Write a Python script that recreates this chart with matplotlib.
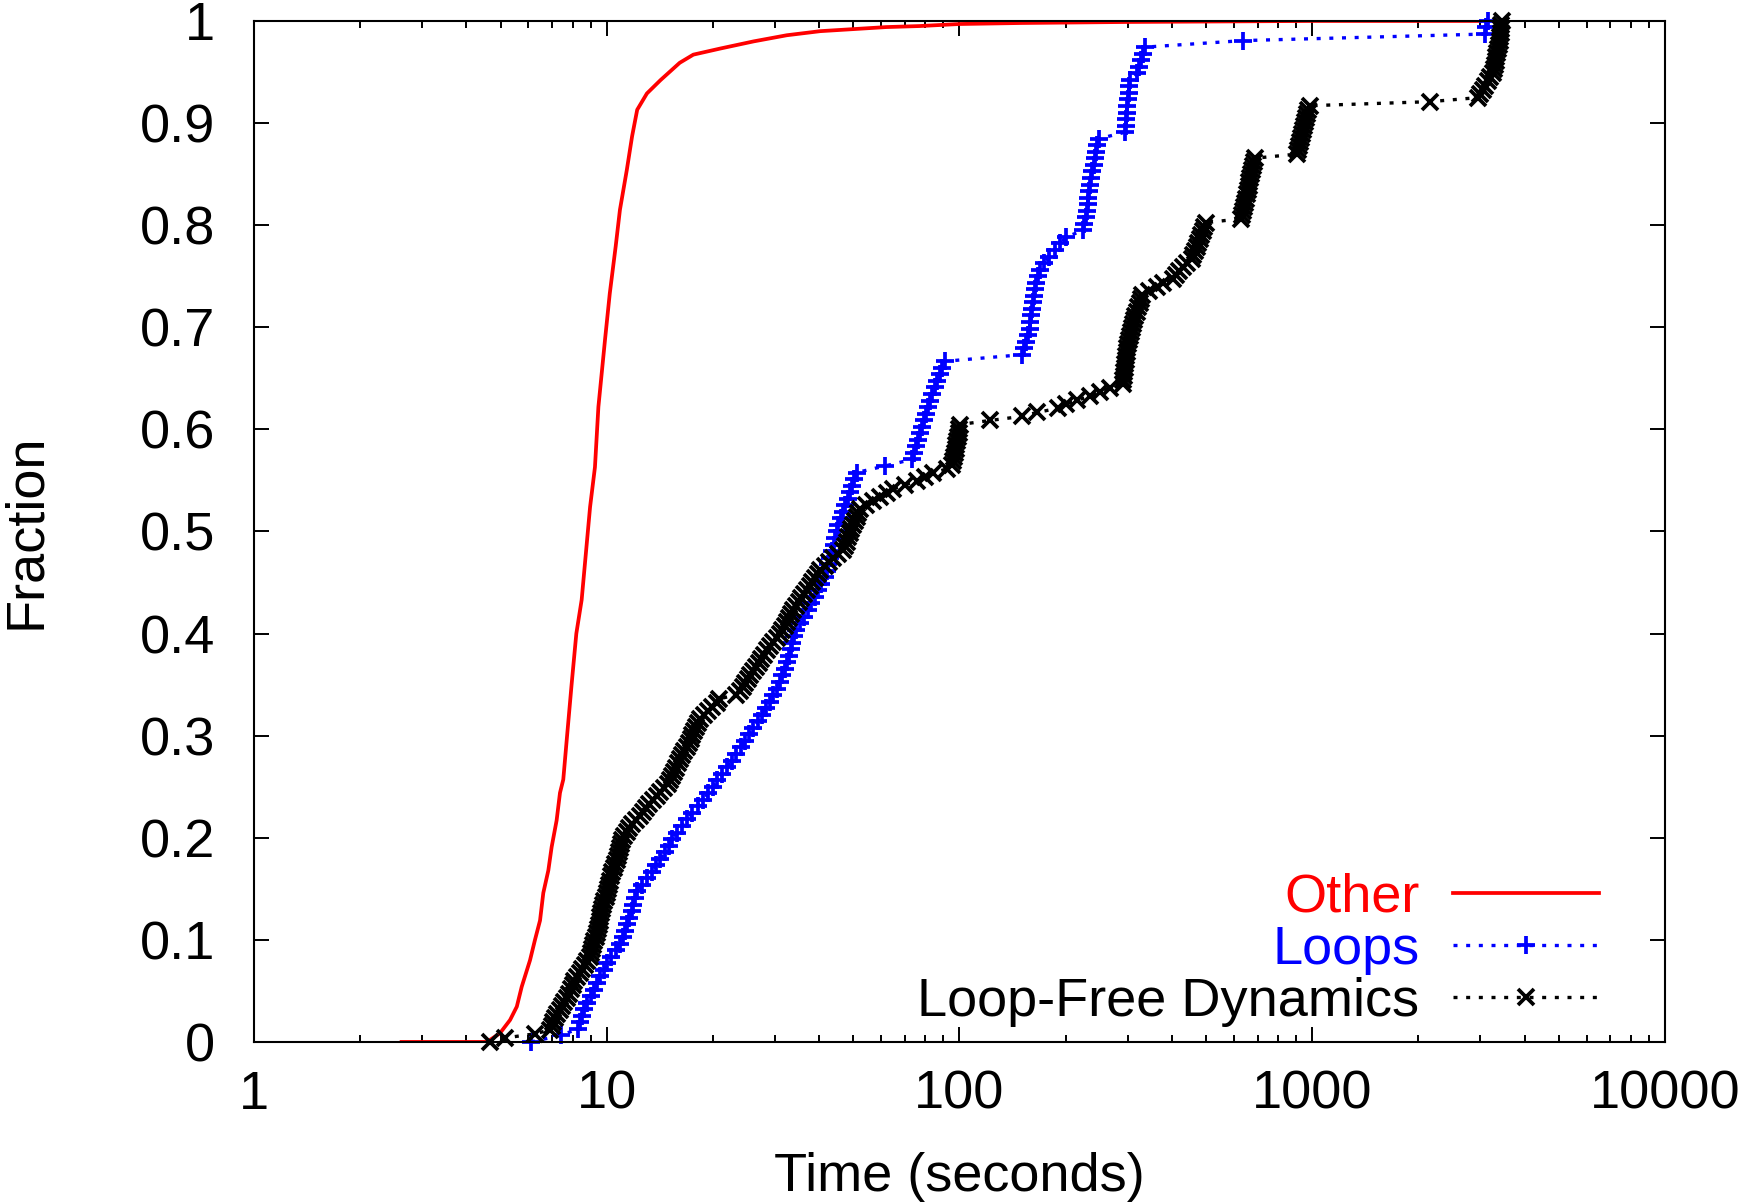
import matplotlib
matplotlib.use('Agg')
import matplotlib.pyplot as plt
from matplotlib.ticker import FixedLocator, FixedFormatter, LogLocator, NullFormatter
import numpy as np

plt.rcParams['font.family'] = ['Liberation Sans', 'DejaVu Sans']

""" Data (read off the figure) """

# Other: CDF line, time in seconds vs fraction
other_time = [2.62, 4.6, 4.67, 4.98, 5.32, 5.56, 5.74, 6.06, 6.26, 6.47, 6.61, 6.83,
              6.98, 7.21, 7.37, 7.53, 7.72, 7.95, 8.2, 8.49, 8.97, 9.26, 9.47, 9.89,
              10.2, 10.6, 10.9, 11.4, 11.8, 12.2, 13.0, 14.2, 16.1, 17.6, 21, 26.1,
              32.4, 40.3, 50, 62, 77, 100, 150, 300, 1000, 3000]
other_frac = [0, 0, 0.002, 0.0085, 0.0215, 0.0346, 0.054, 0.080, 0.100, 0.119, 0.146, 0.168,
              0.191, 0.217, 0.244, 0.257, 0.3, 0.35, 0.4, 0.433, 0.524, 0.563, 0.622, 0.688,
              0.733, 0.779, 0.815, 0.854, 0.887, 0.913, 0.929, 0.942, 0.959, 0.967, 0.973, 0.980,
              0.986, 0.990, 0.992, 0.994, 0.995, 0.997, 0.998, 0.999, 1.0, 1.0]

# Loops: individual samples (seconds)
loops_time = [6.1, 7.4, 8.3, 8.4,
              8.5, 8.6, 8.8, 9.0,
              9.2, 9.4, 9.6, 9.8, 10.0, 10.3, 10.6, 10.9,
              11.1, 11.3, 11.4, 11.6, 11.8, 11.9, 12.0, 12.2,
              12.6, 13.0, 13.4, 13.8, 14.2, 14.6, 15.0, 15.3,
              15.8, 16.3, 16.9, 17.5, 18.1, 18.8, 19.4, 20.0,
              20.5, 21.2, 21.9, 22.6, 23.3, 24.0, 24.7, 25.3,
              26.0, 26.8, 27.5, 28.2, 29.0, 29.7, 30.3, 31.0,
              31.5, 32.0, 32.4, 32.8, 33.2, 33.6, 34.0, 34.5,
              35.3, 36.2, 37.1, 38.0, 38.9, 39.8, 40.6, 41.5,
              42.0, 42.5, 43.0, 43.5, 44.0, 44.5, 45.0, 45.3,
              46, 46.8, 47.5, 48.2, 49, 49.7, 50.4, 51.1,
              61.5, 73.2,
              74.5, 75.5, 76.5, 77.5, 78.5, 79.5, 80.5, 81.5, 82.5, 83.5, 85, 86.5, 88, 89.5, 91,
              150,
              152, 154, 156, 158, 159, 160, 161, 162, 163, 164, 165, 167, 169, 174, 180, 186, 193, 201,
              224, 226, 228, 230, 231, 232, 233, 234,
              236, 238, 240, 242, 244, 246, 248,
              295, 296, 297, 298, 299, 300, 302, 303, 305,
              318, 322, 327, 332, 336,
              638, 3090, 3120, 3150]

# Loop-Free Dynamics: individual samples (seconds)
loopfree_time = [4.67, 5.15, 6.26, 6.9, 6.98,
                 7.05, 7.15, 7.25, 7.35, 7.45, 7.58, 7.7,
                 7.8, 7.9, 8.0, 8.1, 8.25, 8.38, 8.5,
                 8.65, 8.8, 8.97,
                 9.03, 9.1, 9.17, 9.23, 9.3, 9.37,
                 9.43, 9.5, 9.55, 9.6, 9.65, 9.7, 9.78,
                 9.85, 9.92, 10.0, 10.07, 10.13, 10.2,
                 10.3, 10.38, 10.47, 10.56, 10.67,
                 10.74, 10.81, 10.88, 10.95, 11.03,
                 11.2, 11.4, 11.6, 11.8, 12.1, 12.4, 12.7,
                 12.9, 13.2, 13.5, 13.85, 14.2, 14.55, 14.9,
                 15.1, 15.3, 15.5, 15.7, 15.9, 16.1,
                 16.35, 16.6, 16.9,
                 17.1, 17.3, 17.5, 17.7, 17.9, 18.15, 18.4,
                 18.9, 19.4, 19.9, 20.5,
                 20.8, 23.3, 23.9,
                 24.3, 24.7, 25.1, 25.5, 26.0,
                 26.5, 27.0, 27.4, 27.9, 28.4,
                 29.0, 29.7, 30.3, 31.0,
                 31.5, 32.0, 32.4, 32.8, 33.3, 33.8,
                 34.4, 35.0, 35.6, 36.2, 36.9,
                 37.6, 38.3, 39.0, 39.6, 40.3,
                 41.5, 42.7, 43.9,
                 45.4, 46.9,
                 47.4, 47.9, 48.4, 48.9, 49.4, 50.0,
                 50.6, 51.2, 51.7, 52.3,
                 54.5, 57.0, 59.5, 62.2, 65.0,
                 70, 75.7, 80, 84.4, 92,
                 95.5, 96, 96.5, 97, 97.5, 98, 98.5, 99, 99.5, 100,
                 100.4, 122, 150, 166, 190, 200,
                 215, 235, 250, 267, 290,
                 291, 292, 293, 294, 295, 296, 297, 298, 299, 300, 302,
                 304, 306, 308, 310, 312, 315, 318, 321, 324, 327, 330,
                 345, 362, 378, 404, 412, 420, 430, 441,
                 455, 460, 465, 470, 475, 480, 485, 490, 495, 500,
                 628, 632, 636, 640, 644, 648, 652, 656, 660, 664, 668, 672, 676, 680, 685, 690,
                 905, 912, 918, 924, 930, 936, 942, 948, 954, 960, 966, 972, 985,
                 2160,
                 2950, 3000, 3050, 3100, 3150, 3200, 3250,
                 3270, 3290, 3310, 3330, 3350, 3370, 3390, 3400, 3410, 3420, 3430, 3440, 3450]

x_ticks = [1, 10, 100, 1000, 10000]
x_tick_labels = ['1', '10', '100', '1000', '10000']
y_ticks = [0, 0.1, 0.2, 0.3, 0.4, 0.5, 0.6, 0.7, 0.8, 0.9, 1.0]
y_tick_labels = ['0', '0.1', '0.2', '0.3', '0.4', '0.5', '0.6', '0.7', '0.8', '0.9', '1']

""" CDF """

loops_time = np.sort(loops_time)
loops_frac = np.arange(len(loops_time)) / (len(loops_time) - 1)
loopfree_time = np.sort(loopfree_time)
loopfree_frac = np.arange(len(loopfree_time)) / (len(loopfree_time) - 1)

""" Plot """

fs = 39
fig, ax = plt.subplots(figsize=(17.47, 12.04), dpi=100)
fig.subplots_adjust(left=0.1454, right=0.953, top=0.9826, bottom=0.1346)

dots = (0, (1.2, 2.6))
ax.plot(other_time, other_frac, color='red', lw=2.7, label='Other')
ax.plot(loops_time, loops_frac, color='blue', lw=2.4, ls=dots, marker='+',
        ms=13, mew=2.7, label='Loops', clip_on=False)
ax.plot(loopfree_time, loopfree_frac, color='black', lw=2.4, ls=dots, marker='x',
        ms=12, mew=2.7, label='Loop-Free Dynamics', clip_on=False)

ax.set_xscale('log')
ax.set_xlim(1, 10000)
ax.set_ylim(0, 1)
ax.xaxis.set_major_locator(FixedLocator(x_ticks))
ax.xaxis.set_major_formatter(FixedFormatter(x_tick_labels))
ax.xaxis.set_minor_locator(LogLocator(base=10, subs=range(2, 10)))
ax.xaxis.set_minor_formatter(NullFormatter())
ax.yaxis.set_major_locator(FixedLocator(y_ticks))
ax.yaxis.set_major_formatter(FixedFormatter(y_tick_labels))

ax.tick_params(which='both', direction='in', top=True, right=True, width=1.4, labelsize=fs)
ax.tick_params(which='major', length=10.5)
ax.tick_params(which='minor', length=5)
ax.tick_params(axis='x', pad=20)
ax.tick_params(axis='y', pad=28)
for s in ax.spines.values():
    s.set_linewidth(1.5)

ax.set_xlabel('Time (seconds)', fontsize=fs)
ax.set_ylabel('Fraction', fontsize=fs)
ax.xaxis.set_label_coords(0.5, -0.108)
ax.yaxis.set_label_coords(-0.144, 0.5)

leg = ax.legend(loc='lower right', bbox_to_anchor=(0.953, 0.0147), frameon=False,
                markerfirst=False, numpoints=1, fontsize=fs, handlelength=2.68,
                handletextpad=0.63, labelspacing=0.04, borderpad=0, borderaxespad=0,
                labelcolor='linecolor')

fig.savefig('out.png', dpi=100)
